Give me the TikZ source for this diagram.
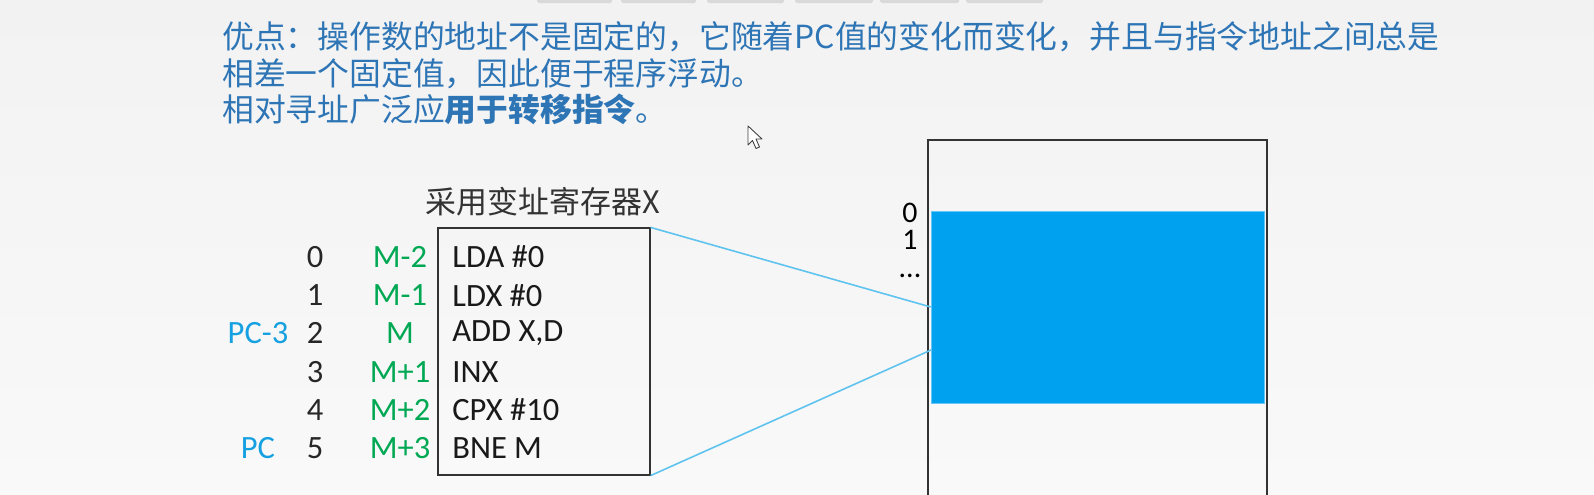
\documentclass[tikz,border=0pt]{standalone}
\usepackage{fontspec}
\setmainfont{Carlito}
\newfontfamily\cjk{Noto Sans CJK SC}
\usetikzlibrary{positioning}

\definecolor{txtblue}{RGB}{46,117,182}
\definecolor{pcblue}{RGB}{20,160,225}
\definecolor{mgreen}{RGB}{0,168,84}
\definecolor{blkblue}{RGB}{0,162,240}
\definecolor{lineblue}{RGB}{94,195,238}
\definecolor{bgtop}{RGB}{242,242,242}
\definecolor{bgbot}{RGB}{249,249,249}

\tikzstyle{note}=[font=\cjk\fontsize{18.1}{20}\selectfont,text=txtblue,anchor=west,inner sep=0pt]
\tikzstyle{row}=[font=\fontsize{18.5}{20}\selectfont,inner sep=0pt]
\tikzstyle{addr}=[row,text=black!85]
\tikzstyle{maddr}=[row,text=mgreen]
\tikzstyle{pclabel}=[row,text=pcblue]
\tikzstyle{instr}=[row,text=black!90,anchor=west]
\tikzstyle{frame}=[draw=black!80,line width=0.7pt]
\tikzstyle{link}=[draw=lineblue,line width=0.9pt]
\tikzstyle{bar}=[fill=black!15,rounded corners=1pt]

\begin{document}
\begin{tikzpicture}[x=0.02cm,y=-0.02cm]
  \useasboundingbox (0,0) rectangle (1594,494);
  \fill[top color=bgtop,bottom color=bgbot] (0,0) rectangle (1594,494);
  % slide bars at the top edge
  \foreach \a/\b in {537/612,621/696,707/784,795/873,880/959,966/1043}
    \fill[bar] (\a,-4) rectangle (\b,3);

  % text
  \node[note] (t1) at (222,37) {优点：操作数的地址不是固定的，它随着PC值的变化而变化，并且与指令地址之间总是};
  \node[note] (t2) at (222,74) {相差一个固定值，因此便于程序浮动。};
  \node[note] (t3) at (222,109) {相对寻址广泛应{\bfseries 用于转移指令}。};

  % cursor
  \draw[fill=white,draw=black!75,line width=0.5pt,line join=round] (748,126) -- (748,145) -- (752.5,140.5) -- (756,148.5) -- (759.5,147) -- (756,139) -- (762,139) -- cycle;

  % program
  \node[font=\cjk\fontsize{17.6}{20}\selectfont,text=black!80,inner sep=0pt] (ttl) at (543,202) {采用变址寄存器X};
  \node[frame,minimum width=4.24cm,minimum height=4.94cm,inner sep=0pt] (prog) at (544,351.5) {};
  \foreach \n/\m/\ins [count=\i from 0] in {0/M-2/LDA \#0,1/M-1/LDX \#0,2/M/{ADD X,D},3/M+1/INX,4/M+2/CPX \#10,5/M+3/BNE M}
  {
    \pgfmathsetmacro\yy{257+38.2*\i}
    \node[addr] (a\i) at (315,\yy) {\n};
    \node[maddr] (m\i) at (400,\yy) {\m};
    \node[instr] (c\i) at (452,\yy) {\ins};
  }
  \node[pclabel] (pc3) at (258,333.4) {PC-3};
  \node[pclabel] (pc) at (258,448) {PC};

  % memory
  \draw[frame] (928,500) -- (928,140) -- (1267,140) -- (1267,500);
  \node[fill=blkblue,draw=blkblue!60,line width=0.3pt,minimum width=6.66cm,minimum height=3.84cm,inner sep=0pt] (blk) at (1097.5,307) {};
  \coordinate (blk2) at (931,350);
  \node[row,font=\fontsize{17}{15.6}\selectfont,align=center,anchor=north] (klab) at (910,202.5) {0\\1\\...};

  \draw[link] (prog.north east) -- (blk.west);
  \draw[link] (prog.south east) -- (blk2);
\end{tikzpicture}
\end{document}
